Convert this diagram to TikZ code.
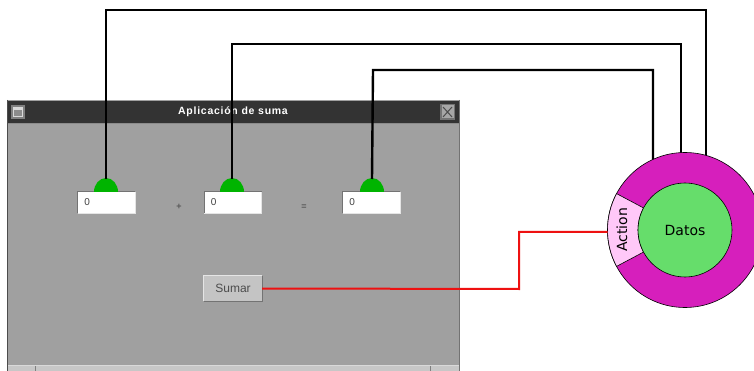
\documentclass[tikz,border=0pt]{standalone}
\usepackage{fontspec}
\usetikzlibrary{calc}
\setmainfont{Liberation Sans}
\newfontfamily\dvs{DejaVu Sans}
\newfontfamily\titlefont[LetterSpace=7]{Liberation Sans}
\definecolor{wingray}{HTML}{A0A0A0}
\definecolor{titlegray}{HTML}{333333}
\definecolor{domegreen}{HTML}{00B400}
\definecolor{ringmag}{HTML}{D61FBC}
\definecolor{innergreen}{HTML}{66DD6B}
\definecolor{actpink}{HTML}{FFC8F8}
\definecolor{btngray}{HTML}{C4C4C4}
\definecolor{wirered}{HTML}{EE1111}
\tikzset{
  wire/.style={line width=2.4pt, black},
  redwire/.style={line width=2pt, wirered},
  field/.style={draw=none, fill=white, minimum width=57pt, minimum height=21pt, inner sep=0pt},
  dome/.style={fill=domegreen},
  small/.style={font=\fontsize{10}{11}\selectfont}
}
\begin{document}
\begin{tikzpicture}[x=1pt,y=-1pt]
\useasboundingbox (0,0) rectangle (754,371);
\fill[white] (0,0) rectangle (754,371);
% window
\fill[wingray] (7,100) rectangle (460,375);
\draw[line width=1.5pt, black!70] (7.5,100) -- (7.5,375);
\draw[line width=1pt, black!55] (459.5,100) -- (459.5,375);
\fill[titlegray] (8,101) rectangle (459,123);
\draw[black!45] (8,123.5) -- (459,123.5);
% title icons
\fill[black!50] (11,105) rectangle (25,119);
\fill[black!15] (13,107) rectangle (23,117);
\fill[black!45] (14,110) rectangle (22,116);
\fill[black!55] (440,104) rectangle (455,120);
\fill[black!35] (441.5,105.5) rectangle (453.5,118.5);
\draw[black!70, line width=1pt] (443,107) -- (452,117) (452,107) -- (443,117);
\node[text=white, font=\titlefont\fontsize{10.5}{12}\selectfont\bfseries] (title) at (233,112) {Aplicación de suma};
% bottom strip
\fill[black!22] (8,365) rectangle (459,371);
\draw[white!85!black] (8,365.5) -- (459,365.5);
\draw[black!50] (35.5,366) -- (35.5,371) (430.5,366) -- (430.5,371);
% text fields
\foreach \n/\x in {f1/106.5, f2/233, f3/371.5}{
  \node[field] (\n) at (\x,202.5) {};
  \draw[black!55, line width=1.2pt] (\n.south west) -- (\n.north west) -- (\n.north east);
  \draw[white!90!black, line width=1pt] (\n.north east) -- (\n.south east) -- (\n.south west);
  \node[small, anchor=west, text=black!75] at ([xshift=3pt]\n.west) {0};
}
\node[font=\fontsize{9}{10}\selectfont\bfseries, text=black!65] (plus) at (179,207) {+};
\node[font=\fontsize{9}{10}\selectfont\bfseries, text=black!65] (eq) at (304,207) {=};
% domes
\foreach \n/\x in {d1/106, d2/232, d3/372}{
  \fill[dome] (\x-12,192) arc[start angle=180, end angle=0, x radius=12, y radius=-14] -- cycle;
  \coordinate (\n) at (\x,179);
}
% button
\node[fill=btngray, minimum width=58pt, minimum height=25pt, inner sep=0pt] (sumar) at (233,288.5) {};
\draw[white!90!black, line width=1pt] (sumar.south west) -- (sumar.north west) -- (sumar.north east);
\draw[black!55, line width=1pt] (sumar.north east) -- (sumar.south east) -- (sumar.south west);
\node[text=black!70, font=\fontsize{12}{13}\selectfont] at (sumar) {Sumar};
% Datos component
\coordinate (c) at (685,230);
\coordinate (w1) at (706,160);
\coordinate (w2) at (681,160);
\coordinate (w3) at (653,162);
\draw[wire] (d1) -- (106,10) -| (w1);
\draw[wire] (d2) -- (232,44) -| (w2);
\draw[wire] (d3) -- (373,70) -| (w3);
\filldraw[fill=ringmag, draw=black, line width=0.6pt] (c) circle[radius=77.5];
\filldraw[fill=actpink, draw=black, line width=0.6pt] ($(c)+(152:77.5)$) arc[start angle=152, end angle=208, radius=77.5] -- ($(c)+(208:47)$) arc[start angle=208, end angle=152, radius=47] -- cycle;
\node[circle, fill=innergreen, draw=black, line width=0.6pt, minimum size=94pt, inner sep=0pt, font=\dvs\fontsize{14}{16}\selectfont] (datos) at (c) {Datos};
\node[rotate=90, font=\dvs\fontsize{14}{16}\selectfont] (action) at (622,230) {Action};
\coordinate (ain) at (607.5,232);
\draw[redwire] (sumar.east) -- (519,289) |- (ain);
\end{tikzpicture}
\end{document}
